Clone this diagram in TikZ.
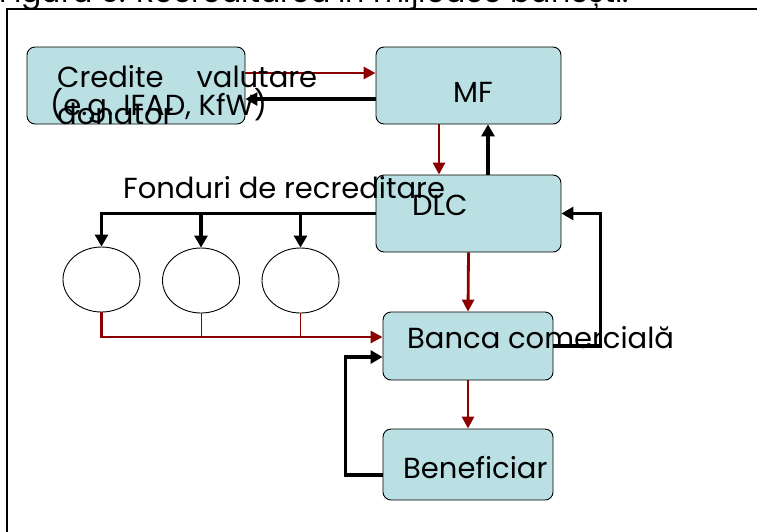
\documentclass[tikz,border=0pt]{standalone}
\usepackage{fontspec}
\setmainfont{Poppins}
\usetikzlibrary{arrows.meta,shapes.geometric}
\definecolor{umplere}{RGB}{186,224,227}
\definecolor{visiniu}{RGB}{140,0,0}
\tikzset{
  bloc/.style={draw, fill=umplere, rounded corners=8pt, inner sep=0pt, line width=0.9pt},
  fond/.style={draw, ellipse, inner sep=0pt, line width=0.9pt, minimum width=77pt, minimum height=65pt},
  eticheta/.style={anchor=base west, inner sep=0pt, font=\fontsize{29}{29}\selectfont},
  rosu/.style={draw=visiniu, line width=2.8pt, -{Triangle[length=12pt,width=12pt]}},
  negru/.style={draw=black, line width=3.2pt, -{Triangle[length=12pt,width=13pt]}},
}
\begin{document}
\begin{tikzpicture}[x=1pt,y=-1pt]
  % zona vizibila
  \clip (0,0) rectangle (757,531);
  % cadrul figurii
  \draw[line width=2.4pt] (7,9) rectangle (780,560);
  % titlul (taiat sus)
  \node[eticheta, font=\fontsize{30}{30}\selectfont] (titlu) at (-1,2) {Figura 6. Recreditarea în mijloace bănești.};
  % blocurile
  \node[bloc, minimum width=218pt, minimum height=77pt] (donor) at (136,85.5) {};
  \node[bloc, minimum width=185pt, minimum height=77pt] (mf) at (468.5,85.5) {};
  \node[bloc, minimum width=185pt, minimum height=77pt] (dlc) at (468.5,213.5) {};
  \node[bloc, minimum width=170pt, minimum height=68pt] (banca) at (468,346) {};
  \node[bloc, minimum width=170pt, minimum height=71pt] (benef) at (468,464.5) {};
  % fondurile de recreditare
  \node[fond] (f1) at (101.5,279.5) {};
  \node[fond] (f2) at (201,280.5) {};
  \node[fond] (f3) at (300.5,280.5) {};
  % donor <-> MF
  \draw[rosu] ([yshift=12.5pt]donor.east) -- ([yshift=12.5pt]mf.west);
  \draw[negru] ([yshift=-13.5pt]mf.west) -- ([yshift=-13.5pt]donor.east);
  % MF <-> DLC
  \draw[rosu] ([xshift=-29.5pt]mf.south) -- ([xshift=-29.5pt]dlc.north);
  \draw[negru] ([xshift=19.5pt]dlc.north) -- ([xshift=19.5pt]mf.south);
  % DLC -> fonduri
  \draw[negru] (dlc.west) -| (f1.north);
  \draw[negru] (f2.north |- dlc.west) -- (f2.north);
  \draw[negru] (f3.north |- dlc.west) -- (f3.north);
  % fonduri -> banca
  \draw[rosu] (f1.south) |- ([yshift=9pt]banca.west);
  \draw[visiniu, line width=1pt] (f2.south) -- (f2.south |- 0,337);
  \draw[visiniu, line width=1pt] (f3.south) -- (f3.south |- 0,337);
  % DLC -> banca -> beneficiar
  \draw[rosu] (dlc.south) -- (banca.north);
  \draw[rosu] (banca.south) -- (benef.north);
  % banca -> DLC
  \draw[negru] (banca.east) -- ++(47,0) |- (dlc.east);
  % beneficiar -> banca
  \draw[negru] ([yshift=-10.5pt]benef.west) -- ++(-37,0) |- ([yshift=-11pt]banca.west);
  % textele
  \node[eticheta] (t1) at (57,87) {\makebox[260pt][s]{Credite\hfill valutare}};
  \node[eticheta] (t2) at (50,115) {(e.g. IFAD, KfW)};
  \node[eticheta] (t3) at (57,124) {donator};
  \node[eticheta] (t4) at (453,102) {MF};
  \node[eticheta] (t5) at (123,198) {Fonduri de recreditare};
  \node[eticheta] (t6) at (412,215) {DLC};
  \node[eticheta] (t7) at (407,348) {Banca comercială};
  \node[eticheta] (t8) at (403,478) {Beneficiar};
\end{tikzpicture}
\end{document}
